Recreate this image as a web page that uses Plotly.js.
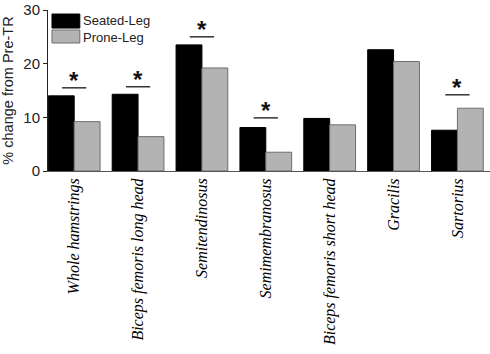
<!DOCTYPE html>
<html><head><meta charset="utf-8">
<script src="https://cdn.plot.ly/plotly-3.0.1.min.js"></script>
<style>html,body{margin:0;padding:0;background:#fff;}#chart{width:490px;height:354px;}</style>
</head><body><div id="chart"></div>
<script>
var categories = ["Whole hamstrings","Biceps femoris long head","Semitendinosus","Semimembranosus","Biceps femoris short head","Gracilis","Sartorius"];
var seriesNames = ["Seated-Leg", "Prone-Leg"];
var seatedLeg = [14.0, 14.3, 23.5, 8.1, 9.8, 22.6, 7.6];
var proneLeg  = [9.2, 6.4, 19.2, 3.5, 8.6, 20.4, 11.7];
var sigIndex  = [0, 1, 2, 3, 6];
var sigLevel  = [15.5, 15.7, 25.0, 9.9, 14.2];
var yTicks    = [0, 10, 20, 30];

var fills = ['#000000', '#b3b3b3'];
var outlines = ['#000000', '#6e6e6e'];
var idx = categories.map(function(_, i){ return i; });
var traces = [
  {type:'bar', name:seriesNames[0], x:idx, y:seatedLeg, showlegend:false,
   marker:{color:fills[0], line:{color:outlines[0], width:1}}},
  {type:'bar', name:seriesNames[1], x:idx, y:proneLeg, showlegend:false,
   marker:{color:fills[1], line:{color:outlines[1], width:1}}}
];
var shapes = [], annotations = [];
sigIndex.forEach(function(c, k){
  shapes.push({type:'line', xref:'x', yref:'y', x0:c-0.19, x1:c+0.19, y0:sigLevel[k], y1:sigLevel[k],
    line:{color:'#333', width:1.5}});
  annotations.push({xref:'x', yref:'y', x:c, y:sigLevel[k], text:'<b>*</b>', showarrow:false,
    yanchor:'bottom', yshift:-8, font:{family:'Arial, Liberation Sans, sans-serif', size:24, color:'#111'}});
});
// custom legend (wide boxes as in the reference)
var legTop = [0.975, 0.876], legBot = [0.888, 0.795];
seriesNames.forEach(function(n, k){
  shapes.push({type:'rect', xref:'paper', yref:'paper', x0:0.009, x1:0.072, y0:legBot[k], y1:legTop[k],
    fillcolor:fills[k], line:{color:outlines[k], width:1}});
});
annotations.push({xref:'paper', yref:'paper', x:0.075, y:(legTop[0]+legBot[1])/2,
  text:seriesNames.join('<br>'), align:'left',
  showarrow:false, xanchor:'left', yanchor:'middle',
  font:{family:'Arial, Liberation Sans, sans-serif', size:13, color:'#222'}});
var layout = {
  width:490, height:354,
  margin:{l:48, r:0, t:10, b:183},
  paper_bgcolor:'#fff', plot_bgcolor:'#fff',
  barmode:'group', bargap:0.19, bargroupgap:0,
  showlegend:false,
  xaxis:{range:[-0.41, 6.51], tickvals:idx, ticktext:categories, tickangle:-90,
    showline:true, linecolor:'#555', linewidth:1, ticks:'', showgrid:false, zeroline:false,
    tickfont:{family:'Liberation Serif, DejaVu Serif, serif', size:16, color:'#000', style:'italic'}},
  yaxis:{range:[0, 30], tickvals:yTicks, showline:true, linecolor:'#222', linewidth:1,
    ticks:'outside', ticklen:4, tickcolor:'#222', showgrid:false, zeroline:false,
    tickfont:{family:'Arial, Liberation Sans, sans-serif', size:15, color:'#222'},
    title:{text:'% change from Pre-TR', standoff:6, font:{family:'Arial, Liberation Sans, sans-serif', size:14.5, color:'#222'}}},
  shapes:shapes, annotations:annotations
};
Plotly.newPlot('chart', traces, layout, {displayModeBar:false, staticPlot:true});
</script></body></html>
